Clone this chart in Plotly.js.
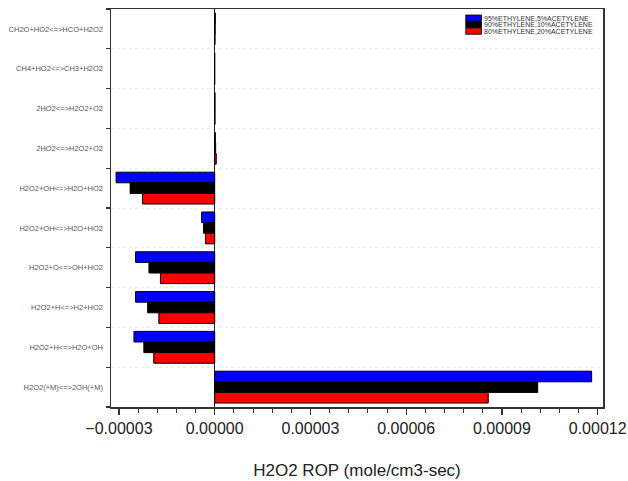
<!DOCTYPE html>
<html>
<head>
<meta charset="utf-8">
<script src="https://cdn.plot.ly/plotly-3.0.1.min.js"></script>
<style>html,body{margin:0;padding:0;background:#fff;}#chart{width:628px;height:481px;}</style>
</head>
<body>
<div id="chart"></div>
<script>
// Reactions, top to bottom
const reactions = [
  "CH2O+HO2<=>HCO+H2O2",
  "CH4+HO2<=>CH3+H2O2",
  "2HO2<=>H2O2+O2",
  "2HO2<=>H2O2+O2",
  "H2O2+OH<=>H2O+HO2",
  "H2O2+OH<=>H2O+HO2",
  "H2O2+O<=>OH+HO2",
  "H2O2+H<=>H2+HO2",
  "H2O2+H<=>H2O+OH",
  "H2O2(+M)<=>2OH(+M)"
];
const seriesNames = ["95%ETHYLENE,5%ACETYLENE", "90%ETHYLENE,10%ACETYLENE", "80%ETHYLENE,20%ACETYLENE"];
const seriesColors = ["#0000ff", "#000000", "#ff0000"];
const rop95 = [2.0e-7, 0.0, 1.0e-7, 2.0e-7, -3.09e-5, -4.1e-6, -2.48e-5, -2.48e-5, -2.53e-5, 1.181e-4];
const rop90 = [1.5e-7, 0.0, 1.0e-7, 3.0e-7, -2.65e-5, -3.5e-6, -2.06e-5, -2.10e-5, -2.22e-5, 1.012e-4];
const rop80 = [1.0e-7, 0.0, 1.0e-7, 5.0e-7, -2.26e-5, -2.9e-6, -1.70e-5, -1.75e-5, -1.91e-5, 8.57e-5];
const xTickVals = [-0.00003, 0, 0.00003, 0.00006, 0.00009, 0.00012];
const xTickText = ["\u22120.00003", "0.00000", "0.00003", "0.00006", "0.00009", "0.00012"];

const yIdx = reactions.map((_, i) => i);
const allSeries = [rop95, rop90, rop80];
const traces = allSeries.map((vals, k) => ({
  type: "bar",
  orientation: "h",
  name: seriesNames[k],
  x: vals,
  y: yIdx,
  marker: {color: seriesColors[k], line: {color: "#000", width: 1}},
  showlegend: false,
  hoverinfo: "x+name"
}));

// manual compact legend
const shapes = [];
const annotations = [];
seriesNames.forEach((n, k) => {
  const top = 0.985 - k * 0.0165;
  shapes.push({type: "rect", xref: "paper", yref: "paper",
    x0: 0.721, x1: 0.753, y0: top - 0.0155, y1: top,
    fillcolor: seriesColors[k], line: {color: "#000", width: 0.8}});
  annotations.push({xref: "paper", yref: "paper", x: 0.755, y: top - 0.0078,
    xanchor: "left", yanchor: "middle", showarrow: false, text: n,
    font: {family: "Liberation Sans, Arial, sans-serif", size: 7, color: "#333"}});
});

const layout = {
  width: 628, height: 481,
  margin: {l: 111, r: 25, t: 9, b: 74},
  paper_bgcolor: "#fff", plot_bgcolor: "#fff",
  barmode: "group", bargap: 0.2, bargroupgap: 0,
  showlegend: false,
  font: {family: "Liberation Sans, Arial, sans-serif", color: "#222"},
  xaxis: {
    range: [-3.249e-5, 1.2166e-4],
    tickmode: "array", tickvals: xTickVals, ticktext: xTickText,
    ticks: "outside", ticklen: 6, tickwidth: 1.2, tickcolor: "#333",
    minor: {dtick: 0.000006, tick0: 0, ticks: "outside", ticklen: 4, tickwidth: 1, tickcolor: "#333", showgrid: false},
    showgrid: false,
    zeroline: true, zerolinecolor: "#222", zerolinewidth: 1.2,
    showline: true, linecolor: "#333", linewidth: 1.5, mirror: true,
    tickfont: {size: 16, color: "#222"},
    title: {text: "H2O2 ROP (mole/cm3-sec)", font: {size: 17, color: "#222"}, standoff: 28}
  },
  yaxis: {
    range: [9.5, -0.5],
    tickmode: "array", tickvals: yIdx, ticktext: reactions,
    ticks: "", showgrid: false, zeroline: false,
    minor: {tickmode: "array", tickvals: reactions.map((_, i) => i - 0.5).concat([reactions.length - 0.5]),
      ticks: "outside", ticklen: 4, tickwidth: 1.2, tickcolor: "#333",
      showgrid: true, gridcolor: "#e6e6e6", griddash: "dot", gridwidth: 0.8},
    showline: true, linecolor: "#333", linewidth: 1.5, mirror: true,
    tickfont: {size: 7.5, color: "#555"},
    ticklabelstandoff: 5
  },
  shapes: shapes,
  annotations: annotations
};

Plotly.newPlot("chart", traces, layout, {displayModeBar: false, staticPlot: true});
</script>
</body>
</html>
